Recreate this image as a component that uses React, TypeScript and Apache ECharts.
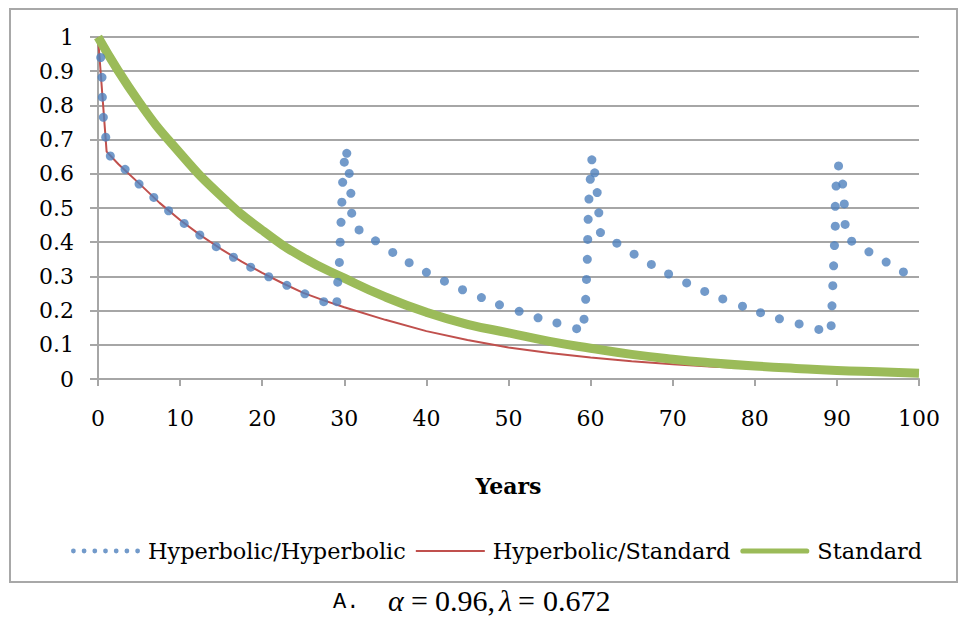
import React, { useEffect, useRef } from "react";
import * as echarts from "echarts";

// ---- data ----
const seriesNames = ["Hyperbolic/Hyperbolic", "Hyperbolic/Standard", "Standard"];

// Hyperbolic/Hyperbolic (dotted series) – dot positions [years, value]
const hypHypX = [
  0.33, 0.49, 0.53, 0.65, 0.94, 1.5, 3.3, 5.0, 6.8, 8.6, 10.5, 12.4, 14.4, 16.5, 18.6, 20.8, 23.0, 25.2, 27.5, 29.1,
  29.2, 29.4, 29.5, 29.6, 29.7, 29.8, 30.0, 30.3, 30.6, 30.8, 30.9, 31.8, 33.8, 35.9, 37.9, 40.0, 42.2, 44.4, 46.7,
  48.9, 51.3, 53.6, 55.9, 58.3,
  59.2, 59.4, 59.5, 59.6, 59.65, 59.7, 59.8, 59.96, 60.15, 60.5, 60.8, 61.0, 61.2, 63.2, 65.3, 67.4, 69.5, 71.7, 73.9,
  76.1, 78.5, 80.7, 83.0, 85.4, 87.8,
  89.3, 89.4, 89.5, 89.6, 89.7, 89.8, 89.8, 89.9, 90.2, 90.7, 90.9, 91.0, 91.8, 93.9, 96.0, 98.1,
];
const hypHypY = [
  0.94, 0.882, 0.824, 0.765, 0.707, 0.652, 0.613, 0.57, 0.531, 0.492, 0.455, 0.421, 0.387, 0.356, 0.327, 0.299, 0.274, 0.249, 0.226, 0.226,
  0.283, 0.341, 0.4, 0.458, 0.517, 0.575, 0.634, 0.66, 0.601, 0.543, 0.485, 0.436, 0.404, 0.37, 0.34, 0.312, 0.286, 0.261, 0.238,
  0.217, 0.198, 0.179, 0.164, 0.147,
  0.175, 0.233, 0.291, 0.35, 0.408, 0.467, 0.526, 0.584, 0.641, 0.603, 0.545, 0.486, 0.428, 0.397, 0.365, 0.335, 0.307, 0.281, 0.256,
  0.234, 0.213, 0.194, 0.176, 0.161, 0.145,
  0.156, 0.214, 0.273, 0.331, 0.39, 0.447, 0.505, 0.564, 0.623, 0.57, 0.512, 0.452, 0.403, 0.372, 0.342, 0.313,
];

// Hyperbolic/Standard (thin red line)
const hypStdX = [0, 1.05, 2.5, 5, 7.5, 10, 12.5, 15, 17.5, 20, 22.5, 25, 27.5, 30, 35, 40, 45, 50, 55, 60, 65, 70, 75, 80, 85, 90, 95, 100];
const hypStdY = [1, 0.665, 0.628, 0.572, 0.515, 0.465, 0.42, 0.38, 0.343, 0.31, 0.28, 0.252, 0.23, 0.21, 0.173, 0.14, 0.114, 0.092, 0.076, 0.063, 0.052, 0.043, 0.036, 0.031, 0.026, 0.022, 0.019, 0.016];

// Standard (thick green line)
const stdX = [0, 5, 10, 15, 20, 25, 30, 35, 40, 45, 50, 55, 60, 65, 70, 75, 80, 85, 90, 95, 100];
const stdY = [1, 0.81, 0.66, 0.535, 0.435, 0.355, 0.295, 0.24, 0.195, 0.16, 0.135, 0.11, 0.09, 0.072, 0.058, 0.047, 0.038, 0.031, 0.025, 0.021, 0.017];

const xAxisTitle = "Years";
const captionLabel = "A.";
const captionParts = ["α", "=", "0.96,", "λ", "=", "0.672"];

const zip = (xs: number[], ys: number[]) => xs.map((x, i) => [x, ys[i]]);

const FONT = "DejaVu Serif";
const MATH_FONT = "'Liberation Serif', 'Times New Roman', Times, serif";
const MONO_FONT = "'Liberation Mono', 'Courier New', Courier, monospace";
const GRID_GRAY = "#a6a6a6";
const BLUE = "#4f81bd";
const RED = "#c0504d";
const GREEN = "#9bbb59";

const ICON_W = 69;
const ICON_H = 6;

function dottedIconPath(): string {
  const n = 7;
  const r = 2.4;
  const step = (ICON_W - 2 * r) / (n - 1);
  let d = `M0 0 M0 ${ICON_H} `;
  const cy = ICON_H / 2;
  for (let i = 0; i < n; i++) {
    const cx = r + i * step;
    d += `M${(cx - r).toFixed(2)} ${cy} A${r} ${r} 0 1 0 ${(cx + r).toFixed(2)} ${cy} A${r} ${r} 0 1 0 ${(cx - r).toFixed(2)} ${cy} Z `;
  }
  return "path://" + d.trim();
}
function thinLineIconPath(): string {
  return `path://M0 0 M0 ${ICON_H} M0 2 L${ICON_W} 2 L${ICON_W} 4 L0 4 Z`;
}
function thickLineIconPath(): string {
  const r = 2.6;
  const y0 = ICON_H / 2 - r;
  const y1 = ICON_H / 2 + r;
  return `path://M0 0 M0 ${ICON_H} M${r} ${y0} L${ICON_W - r} ${y0} A${r} ${r} 0 0 1 ${ICON_W - r} ${y1} L${r} ${y1} A${r} ${r} 0 0 1 ${r} ${y0} Z`;
}

export default function App() {
  const ref = useRef<HTMLDivElement>(null);

  useEffect(() => {
    if (!ref.current) return;
    const chart = echarts.init(ref.current, undefined, { renderer: "svg" });
    const capY = 600;
    const mathText = (text: string, x: number, italic: boolean) => ({
      type: "text",
      x,
      y: capY,
      style: {
        text,
        fontFamily: MATH_FONT,
        fontSize: 30,
        lineHeight: 30,
        fontStyle: italic ? "italic" : "normal",
        fill: "#000",
        textVerticalAlign: "middle",
      },
    });
    const option: any = {
      animation: false,
      backgroundColor: "#ffffff",
      textStyle: { fontFamily: FONT, color: "#000" },
      grid: { left: 98, right: 40, top: 37, bottom: 240, containLabel: false },
      legend: {
        left: 66,
        top: 535,
        itemWidth: ICON_W,
        itemHeight: ICON_H,
        itemGap: 10,
        textStyle: { fontFamily: FONT, fontSize: 22.4, color: "#000", padding: [0, 0, 0, 3] },
        data: [
          { name: seriesNames[0], icon: dottedIconPath(), itemStyle: { color: BLUE, borderWidth: 0 } },
          { name: seriesNames[1], icon: thinLineIconPath(), itemStyle: { color: RED, borderWidth: 0 } },
          { name: seriesNames[2], icon: thickLineIconPath(), itemStyle: { color: GREEN, borderWidth: 0 } },
        ],
      },
      xAxis: {
        type: "value",
        min: 0,
        max: 100,
        interval: 10,
        name: xAxisTitle,
        nameLocation: "middle",
        nameGap: 96,
        nameTextStyle: { fontFamily: FONT, fontSize: 22, fontWeight: "bold", color: "#000" },
        axisLine: { show: true, lineStyle: { color: GRID_GRAY, width: 2 } },
        axisTick: { show: true, length: 7, lineStyle: { color: GRID_GRAY, width: 2 } },
        axisLabel: { margin: 28, fontFamily: FONT, fontSize: 22, color: "#000" },
        splitLine: { show: false },
      },
      yAxis: {
        type: "value",
        min: 0,
        max: 1,
        interval: 0.1,
        axisLine: { show: true, lineStyle: { color: GRID_GRAY, width: 2 } },
        axisTick: { show: true, length: 8, lineStyle: { color: GRID_GRAY, width: 2 } },
        axisLabel: { margin: 24, fontFamily: FONT, fontSize: 22, color: "#000" },
        splitLine: { show: true, lineStyle: { color: GRID_GRAY, width: 2 } },
      },
      series: [
        {
          name: seriesNames[0],
          type: "scatter",
          data: zip(hypHypX, hypHypY),
          symbol: "circle",
          symbolSize: 9,
          itemStyle: { color: BLUE },
          z: 5,
        },
        {
          name: seriesNames[1],
          type: "line",
          data: zip(hypStdX, hypStdY),
          showSymbol: false,
          symbol: "none",
          smooth: false,
          lineStyle: { color: RED, width: 2 },
          itemStyle: { color: RED },
          z: 3,
        },
        {
          name: seriesNames[2],
          type: "line",
          data: zip(stdX, stdY),
          showSymbol: false,
          symbol: "none",
          smooth: true,
          lineStyle: { color: GREEN, width: 9 },
          itemStyle: { color: GREEN },
          z: 4,
        },
      ],
      graphic: [
        {
          type: "rect",
          z: -10,
          shape: { x: 10, y: 9, width: 947, height: 573 },
          style: { fill: "none", stroke: "#a8a8a8", lineWidth: 2 },
          silent: true,
        },
        {
          type: "text",
          x: 333,
          y: capY + 2,
          style: {
            text: captionLabel,
            fontFamily: MONO_FONT,
            fontSize: 22,
            lineHeight: 22,
            fill: "#000",
            textVerticalAlign: "middle",
          },
        },
        mathText(captionParts[0], 388, true),
        mathText(captionParts[1], 411, false),
        mathText(captionParts[2], 435, false),
        mathText(captionParts[3], 499, true),
        mathText(captionParts[4], 518, false),
        mathText(captionParts[5], 543, false),
      ],
    };
    chart.setOption(option);
    return () => chart.dispose();
  }, []);

  return (
    <div
      ref={ref}
      style={{ position: "fixed", left: 0, top: 0, width: 959, height: 619, background: "#fff" }}
    />
  );
}
